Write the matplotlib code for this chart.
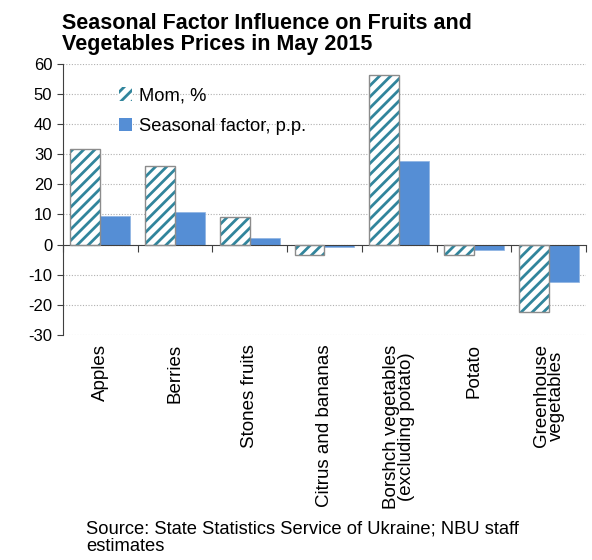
import matplotlib
matplotlib.use("Agg")
import matplotlib.pyplot as plt
import matplotlib.patches as mpatches
import matplotlib.transforms as mtransforms
import numpy as np

plt.rcParams['font.family'] = ['Liberation Sans', 'DejaVu Sans']
plt.rcParams['hatch.linewidth'] = 2.0
plt.rcParams['axes.unicode_minus'] = False

categories = ["Apples", "Berries", "Stones fruits", "Citrus and bananas",
              "Borshch vegetables\n(excluding potato)", "Potato",
              "Greenhouse\nvegetables"]
mom = [31.7, 26.0, 9.3, -3.5, 56.3, -3.4, -22.3]
seasonal = [9.4, 10.8, 2.1, -0.8, 27.7, -1.9, -12.6]
yticks = [-30, -20, -10, 0, 10, 20, 30, 40, 50, 60]

teal = '#31859c'
blue = '#558ed5'

fig = plt.figure(figsize=(5.92, 5.6), dpi=100)
ax = fig.add_axes([0.106, 0.402, 0.884, 0.484])

x = np.arange(len(categories))
w = 0.4
# hatched bars: stripes first, then grey outline on top
ax.bar(x - w / 2, mom, w, color='white', edgecolor=teal, hatch='///', linewidth=0, zorder=2)
ax.bar(x - w / 2, mom, w, fill=False, edgecolor='#8c8c8c', linewidth=1.0, zorder=3)
ax.bar(x + w / 2, seasonal, w, color=blue, edgecolor='#8db3e2', linewidth=0.5, zorder=2)

ax.set_xlim(-0.5, len(categories) - 0.5)
ax.set_ylim(-30, 60)
ax.set_yticks(yticks)
ax.tick_params(axis='y', labelsize=12, length=4, direction='out', color='#404040')
ax.yaxis.grid(True, linestyle=(0, (1, 1.5)), color='#b0b0b0', linewidth=0.8)
ax.set_axisbelow(True)

for s in ['top', 'right']:
    ax.spines[s].set_visible(False)
ax.spines['bottom'].set_position(('data', 0))
ax.spines['left'].set_color('#404040')
ax.spines['bottom'].set_color('#404040')

ax.set_xticks(np.arange(-0.5, len(categories), 1.0))
ax.set_xticklabels([])
ax.tick_params(axis='x', length=5, direction='out', color='#404040')

trans = mtransforms.blended_transform_factory(ax.transData, ax.transAxes)
for xi, lab in zip(x, categories):
    ax.text(xi, -0.035, lab, transform=trans, rotation=90, ha='center', va='top',
            multialignment='center', fontsize=13.5, linespacing=0.85)

handles = [mpatches.Patch(facecolor='white', edgecolor=teal, hatch='///', linewidth=0),
           mpatches.Patch(facecolor=blue)]
leg = ax.legend(handles, ["Mom, %", "Seasonal factor, p.p."], loc='upper left',
                bbox_to_anchor=(0.075, 0.975), frameon=False, fontsize=13.2,
                handlelength=0.75, handleheight=0.75, handletextpad=0.35, labelspacing=0.75)

fig.text(0.105, 0.977, "Seasonal Factor Influence on Fruits and\nVegetables Prices in May 2015",
         ha='left', va='top', fontsize=15.5, fontweight='bold', linespacing=1.0)
fig.text(0.145, 0.07, "Source: State Statistics Service of Ukraine; NBU staff\nestimates",
         ha='left', va='top', fontsize=13.2, linespacing=1.0)

fig.savefig('out.png', dpi=100)
